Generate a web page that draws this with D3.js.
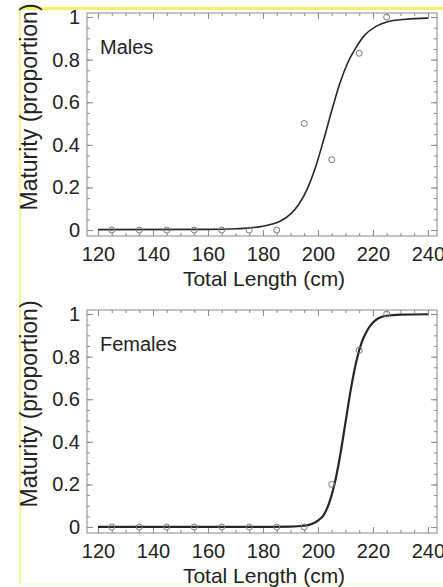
<!DOCTYPE html>
<html>
<head>
<meta charset="utf-8">
<script src="https://cdn.jsdelivr.net/npm/d3@7"></script>
<style>
  body { margin: 0; background: #fff; }
  svg text { font-family: "Liberation Sans", Arial, sans-serif; fill: #222; }
</style>
</head>
<body>
<div id="my_dataviz"></div>
<script>
// observed maturity (proportion) by 10 cm length class
var lengthClasses = [125, 135, 145, 155, 165, 175, 185, 195, 205, 215, 225];
var malesObserved = [0, 0, 0, 0, 0, 0, 0, 0.5, 0.33, 0.83, 1.0];
var femalesObserved = [0, 0, 0, 0, 0, 0, 0, 0, 0.2, 0.83, 1.0];

// fitted curves
var malesCurveX = [120, 160, 170, 175, 180, 183, 186, 190, 193, 196, 199, 202, 205, 208, 211, 214, 217, 221, 226, 232, 240];
var malesCurveY = [0.002, 0.003, 0.006, 0.01, 0.018, 0.027, 0.04, 0.075, 0.12, 0.19, 0.29, 0.42, 0.56, 0.69, 0.79, 0.86, 0.915, 0.955, 0.98, 0.99, 0.995];
var femalesCurveX = [120, 180, 190, 195, 198, 200, 202, 204, 206, 208, 210, 212, 214, 216, 218, 220, 222, 225, 230, 240];
var femalesCurveY = [0.001, 0.001, 0.002, 0.006, 0.015, 0.03, 0.055, 0.11, 0.2, 0.33, 0.49, 0.65, 0.78, 0.87, 0.925, 0.96, 0.98, 0.992, 0.997, 0.999];

var xTicks = [120, 140, 160, 180, 200, 220, 240];
var yTicks = [0, 0.2, 0.4, 0.6, 0.8, 1];
var yTickLabels = ["0", "0.2", "0.4", "0.6", "0.8", "1"];

var panels = [
  { label: "Males", obs: malesObserved, cx: malesCurveX, cy: malesCurveY, lw: 1.6, top: 13 },
  { label: "Females", obs: femalesObserved, cx: femalesCurveX, cy: femalesCurveY, lw: 2.2, top: 310 }
];

var W = 443, H = 587;
var plotLeft = 87, plotRight = 437, plotH = 223;

var svg = d3.select("#my_dataviz")
  .append("svg")
  .attr("width", W)
  .attr("height", H);

// yellow highlight frame round the figure
svg.append("line").attr("x1", 20).attr("x2", W).attr("y1", 8.5).attr("y2", 8.5)
  .attr("stroke", "#f2f26a").attr("stroke-width", 3);
svg.append("line").attr("x1", 20).attr("x2", 20).attr("y1", 7).attr("y2", 584)
  .attr("stroke", "#f4f482").attr("stroke-width", 1.8);
svg.append("line").attr("x1", 20).attr("x2", W).attr("y1", 584).attr("y2", 584)
  .attr("stroke", "#fafacc").attr("stroke-width", 1.5);

var x = d3.scaleLinear()
  .domain([116, 243.3])
  .range([plotLeft, plotRight]);

var minorX = d3.range(120, 241, 5);
var minorY = d3.range(0, 1.001, 0.05);

function drawPanel(p) {
  var y = d3.scaleLinear()
    .domain([-0.028, 1.019])
    .range([p.top + plotH, p.top]);

  var g = svg.append("g");

  // frame
  g.append("rect")
    .attr("x", plotLeft).attr("y", p.top)
    .attr("width", plotRight - plotLeft).attr("height", plotH)
    .attr("fill", "none").attr("stroke", "#8a8a8a").attr("stroke-width", 1);

  // minor ticks on all four sides
  var axes = [
    [d3.axisBottom(x).tickValues(minorX), "translate(0," + (p.top + plotH) + ")"],
    [d3.axisTop(x).tickValues(minorX), "translate(0," + p.top + ")"],
    [d3.axisLeft(y).tickValues(minorY), "translate(" + plotLeft + ",0)"],
    [d3.axisRight(y).tickValues(minorY), "translate(" + plotRight + ",0)"]
  ];
  axes.forEach(function (a) {
    g.append("g")
      .attr("transform", a[1])
      .call(a[0].tickSize(-3).tickFormat(""))
      .call(function (s) { s.select(".domain").remove(); })
      .selectAll("line").attr("stroke", "#8a8a8a");
  });

  // major ticks with labels
  g.append("g")
    .attr("transform", "translate(0," + (p.top + plotH) + ")")
    .call(d3.axisBottom(x).tickValues(xTicks).tickSize(-6).tickPadding(11).tickFormat(d3.format("d")))
    .call(function (s) {
      s.select(".domain").remove();
      s.selectAll("line").attr("stroke", "#8a8a8a");
      s.selectAll("text").attr("font-size", 20).attr("fill", "#222");
    });
  g.append("g")
    .attr("transform", "translate(0," + p.top + ")")
    .call(d3.axisTop(x).tickValues(xTicks).tickSize(-6).tickFormat(""))
    .call(function (s) {
      s.select(".domain").remove();
      s.selectAll("line").attr("stroke", "#8a8a8a");
    });
  g.append("g")
    .attr("transform", "translate(" + plotLeft + ",0)")
    .call(d3.axisLeft(y).tickValues(yTicks).tickSize(-6).tickPadding(7)
      .tickFormat(function (d, i) { return yTickLabels[i]; }))
    .call(function (s) {
      s.select(".domain").remove();
      s.selectAll("line").attr("stroke", "#8a8a8a");
      s.selectAll("text").attr("font-size", 20).attr("fill", "#222");
    });
  g.append("g")
    .attr("transform", "translate(" + plotRight + ",0)")
    .call(d3.axisRight(y).tickValues(yTicks).tickSize(-6).tickFormat(""))
    .call(function (s) {
      s.select(".domain").remove();
      s.selectAll("line").attr("stroke", "#8a8a8a");
    });

  // fitted curve
  var curvePts = p.cx.map(function (v, i) { return { len: v, m: p.cy[i] }; });
  g.append("path")
    .datum(curvePts)
    .attr("fill", "none")
    .attr("stroke", "#262626")
    .attr("stroke-width", p.lw)
    .attr("d", d3.line()
      .x(function (d) { return x(d.len); })
      .y(function (d) { return y(d.m); })
      .curve(d3.curveMonotoneX)
    );

  // observed proportions
  g.selectAll("circle.obs")
    .data(lengthClasses.map(function (v, i) { return { len: v, m: p.obs[i] }; }))
    .enter().append("circle")
    .attr("class", "obs")
    .attr("cx", function (d) { return x(d.len); })
    .attr("cy", function (d) { return y(d.m); })
    .attr("r", 3)
    .attr("fill", "none")
    .attr("stroke", "#7a7a7a")
    .attr("stroke-width", 1);

  // panel label
  g.append("text")
    .attr("x", 100)
    .attr("y", p.top + 41)
    .attr("font-size", 20)
    .text(p.label);

  // axis titles
  g.append("text")
    .attr("x", 264)
    .attr("y", p.top + plotH + 50)
    .attr("text-anchor", "middle")
    .attr("font-size", 21)
    .text("Total Length (cm)");
  g.append("text")
    .attr("transform", "translate(37," + (p.top + 94) + ") rotate(-90)")
    .attr("text-anchor", "middle")
    .attr("font-size", 23)
    .text("Maturity (proportion)");
}

panels.forEach(drawPanel);
</script>
</body>
</html>
